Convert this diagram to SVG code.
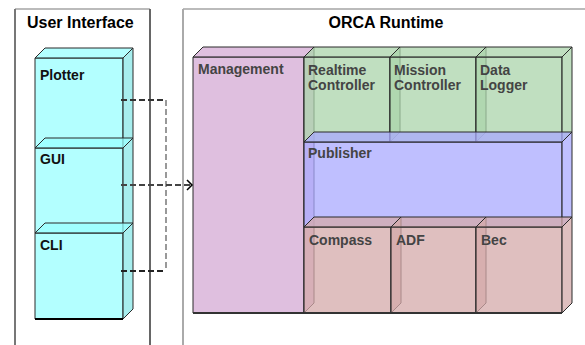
<svg xmlns="http://www.w3.org/2000/svg" width="585" height="345" viewBox="0 0 585 345">
<defs>
<style>
.title{font-family:"Liberation Sans",Arial,sans-serif;font-weight:bold;font-size:16px;fill:#000}
.lbl{font-family:"Liberation Sans",Arial,sans-serif;font-weight:bold;font-size:14px}
.ui{fill:#111}
.rt{fill:#444}
.box{stroke:#2a2a2a;stroke-width:1;stroke-linejoin:round}
.cyan{fill:#9affff;fill-opacity:0.75}
.cyanside{fill:#8ae8e8;fill-opacity:0.75}
.mgmt{fill:#d4aad4;fill-opacity:0.75}
.green{fill:#abd4ab;fill-opacity:0.75}
.pub{fill:#aaaaff;fill-opacity:0.75}
.pink{fill:#d4aaaa;fill-opacity:0.75}
.panel{fill:none;stroke-width:2}
.conn{fill:none;stroke-width:2;stroke-dasharray:6,3}
</style>
<marker id="arr" markerWidth="10" markerHeight="12" refX="7" refY="6" orient="auto" markerUnits="userSpaceOnUse">
<path d="M2,1 L7,6 L2,11" fill="none" stroke="#000" stroke-width="1.5"/>
</marker>
</defs>
<rect width="585" height="345" fill="#fff"/>

<g id="panel-ui">
<line x1="15" y1="9" x2="150" y2="9" stroke="#bbb" class="panel"/>
<line x1="15" y1="9" x2="15" y2="345" stroke="#777" class="panel"/>
<line x1="150" y1="9" x2="150" y2="345" stroke="#666" class="panel"/>
<text x="27" y="28" class="title">User Interface</text>
</g>
<g id="panel-orca">
<line x1="183" y1="9" x2="585" y2="9" stroke="#bbb" class="panel"/>
<line x1="183" y1="9" x2="183" y2="345" stroke="#aaa" class="panel"/>
<text x="386" y="28" class="title" text-anchor="middle">ORCA Runtime</text>
</g>

<g id="plotter">
<rect x="35" y="58" width="88" height="90" class="box cyan"/>
<polygon points="35,58 45,48 133,48 123,58" class="box cyan"/>
<polygon points="123,58 133,48 133,138 123,148" class="box cyanside"/>
<text x="40" y="80" class="lbl ui">Plotter</text>
</g>
<g id="gui">
<rect x="35" y="148" width="88" height="85" class="box cyan"/>
<polygon points="35,148 45,138 133,138 123,148" class="box cyan"/>
<polygon points="123,148 133,138 133,223 123,233" class="box cyanside"/>
<text x="40" y="164" class="lbl ui">GUI</text>
</g>
<g id="cli">
<rect x="35" y="233" width="88" height="86" class="box cyan"/>
<polygon points="35,233 45,223 133,223 123,233" class="box cyan"/>
<polygon points="123,233 133,223 133,309 123,319" class="box cyanside"/>
<line x1="35" y1="319" x2="123" y2="319" stroke="#000" stroke-width="2"/>
<text x="40" y="250" class="lbl ui">CLI</text>
</g>

<g id="management">
<rect x="193" y="57" width="111" height="256" class="box mgmt"/>
<polygon points="193,57 203,47 314,47 304,57" class="box mgmt"/>
<polygon points="304,57 314,47 314,303 304,313" class="box mgmt"/>
<line x1="193" y1="313" x2="304" y2="313" stroke="#333" stroke-width="2"/>
<text x="198" y="74" class="lbl rt">Management</text>
</g>

<g id="realtime">
<rect x="304" y="57" width="86" height="85" class="box green"/>
<polygon points="304,57 314,47 400,47 390,57" class="box green"/>
<polygon points="390,57 400,47 400,132 390,142" class="box green"/>
<text x="308" y="75" class="lbl rt">Realtime</text>
<text x="308" y="90" class="lbl rt">Controller</text>
</g>
<g id="mission">
<rect x="390" y="57" width="86" height="85" class="box green"/>
<polygon points="390,57 400,47 486,47 476,57" class="box green"/>
<polygon points="476,57 486,47 486,132 476,142" class="box green"/>
<text x="394" y="75" class="lbl rt">Mission</text>
<text x="394" y="90" class="lbl rt">Controller</text>
</g>
<g id="datalogger">
<rect x="476" y="57" width="86" height="85" class="box green"/>
<polygon points="476,57 486,47 572,47 562,57" class="box green"/>
<polygon points="562,57 572,47 572,132 562,142" class="box green"/>
<text x="480" y="75" class="lbl rt">Data</text>
<text x="480" y="90" class="lbl rt">Logger</text>
</g>

<g id="publisher">
<rect x="304" y="142" width="258" height="85" class="box pub"/>
<polygon points="304,142 314,132 572,132 562,142" class="box pub"/>
<polygon points="562,142 572,132 572,217 562,227" class="box pub"/>
<text x="308" y="158" class="lbl rt">Publisher</text>
</g>

<g id="compass">
<rect x="304" y="227" width="87" height="86" class="box pink"/>
<polygon points="304,227 314,217 401,217 391,227" class="box pink"/>
<polygon points="391,227 401,217 401,303 391,313" class="box pink"/>
<text x="309" y="245" class="lbl rt">Compass</text>
</g>
<g id="adf">
<rect x="391" y="227" width="85" height="86" class="box pink"/>
<polygon points="391,227 401,217 486,217 476,227" class="box pink"/>
<polygon points="476,227 486,217 486,303 476,313" class="box pink"/>
<text x="396" y="245" class="lbl rt">ADF</text>
</g>
<g id="bec">
<rect x="476" y="227" width="86" height="86" class="box pink"/>
<polygon points="476,227 486,217 572,217 562,227" class="box pink"/>
<polygon points="562,227 572,217 572,303 562,313" class="box pink"/>
<text x="481" y="245" class="lbl rt">Bec</text>
</g>
<line x1="304" y1="313" x2="562" y2="313" stroke="#333" stroke-width="2"/>

<g id="connectors">
<path d="M121,100 H166" stroke="#333" class="conn"/>
<path d="M166,100 V271" stroke="#999" class="conn"/>
<path d="M121,271 H166" stroke="#222" class="conn"/>
<path d="M121,185 H192" stroke="#444" class="conn" marker-end="url(#arr)"/>
</g>
</svg>
